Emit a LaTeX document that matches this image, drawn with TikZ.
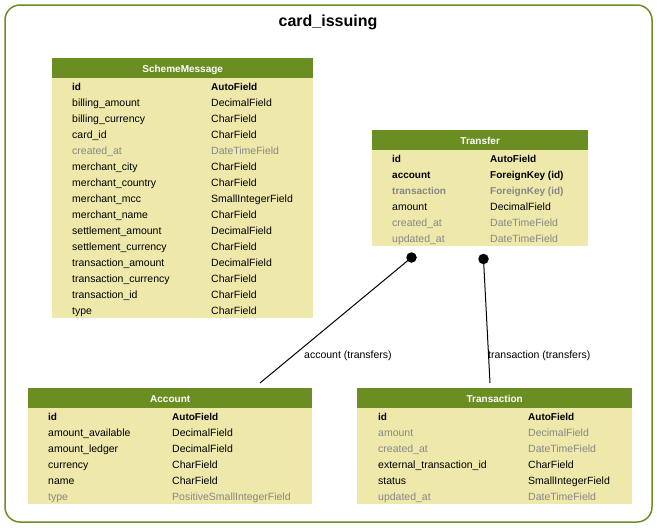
\documentclass[tikz,border=0pt]{standalone}
\usepackage{fontspec}
\setmainfont{Liberation Sans}
\usepackage{tikz}
\usetikzlibrary{arrows.meta,positioning}

\definecolor{olivedrab}{RGB}{107,142,35}
\definecolor{palegold}{RGB}{238,232,170}
\definecolor{fadegray}{RGB}{135,135,135}

\tikzset{
  tblhead/.style={fill=olivedrab, text=white, font=\bfseries, anchor=north west,
    inner sep=0pt, minimum height=20pt, text height=8pt, text depth=0pt},
  fldkey/.style={font=\bfseries, anchor=west, inner sep=0pt, text height=8pt, text depth=0pt},
  fldplain/.style={anchor=west, inner sep=0pt, text height=8pt, text depth=0pt},
  fldgray/.style={fldplain, text=fadegray},
  fldgraykey/.style={fldkey, text=fadegray},
  reldot/.style={circle, fill=black, inner sep=0pt, minimum size=10.5pt},
  rellabel/.style={anchor=west, inner sep=0pt, text height=8pt, text depth=0pt}
}

\begin{document}
\begin{tikzpicture}[x=1pt, y=-1pt, font=\fontsize{10.5}{12.6}\selectfont]
    \useasboundingbox (0,0) rectangle (657,528);
    \draw[olivedrab, line width=1.5pt, rounded corners=15pt] (5,5) rectangle (652,522);
    \node (title) [font=\bfseries\fontsize{16}{19}\selectfont] at (328,22) {card\_issuing};

    % SchemeMessage
    \node (scheme) [tblhead, minimum width=261pt] at (52,58) {SchemeMessage};
    \fill[palegold] (scheme.south west) rectangle ++(261,240);
    \foreach \n/\t/\s [count=\i from 0] in {
        id/AutoField/fldkey,
        billing\_amount/DecimalField/fldplain,
        billing\_currency/CharField/fldplain,
        card\_id/CharField/fldplain,
        created\_at/DateTimeField/fldgray,
        merchant\_city/CharField/fldplain,
        merchant\_country/CharField/fldplain,
        merchant\_mcc/SmallIntegerField/fldplain,
        merchant\_name/CharField/fldplain,
        settlement\_amount/DecimalField/fldplain,
        settlement\_currency/CharField/fldplain,
        transaction\_amount/DecimalField/fldplain,
        transaction\_currency/CharField/fldplain,
        transaction\_id/CharField/fldplain,
        type/CharField/fldplain}{
      \node[\s] at (72,86+16*\i) {\n};
      \node[\s] at (211,86+16*\i) {\t};
    }

    % Transfer
    \node (transfer) [tblhead, minimum width=216pt] at (372,130) {Transfer};
    \fill[palegold] (transfer.south west) rectangle ++(216,96);
    \foreach \n/\t/\s [count=\i from 0] in {
        id/AutoField/fldkey,
        account/ForeignKey (id)/fldkey,
        transaction/ForeignKey (id)/fldgraykey,
        amount/DecimalField/fldplain,
        created\_at/DateTimeField/fldgray,
        updated\_at/DateTimeField/fldgray}{
      \node[\s] at (392,158+16*\i) {\n};
      \node[\s] at (490,158+16*\i) {\t};
    }

    % Account
    \node (account) [tblhead, minimum width=284pt] at (28,388) {Account};
    \fill[palegold] (account.south west) rectangle ++(284,96);
    \foreach \n/\t/\s [count=\i from 0] in {
        id/AutoField/fldkey,
        amount\_available/DecimalField/fldplain,
        amount\_ledger/DecimalField/fldplain,
        currency/CharField/fldplain,
        name/CharField/fldplain,
        type/PositiveSmallIntegerField/fldgray}{
      \node[\s] at (48,416+16*\i) {\n};
      \node[\s] at (172,416+16*\i) {\t};
    }

    % Transaction
    \node (txn) [tblhead, minimum width=275pt] at (357,388) {Transaction};
    \fill[palegold] (txn.south west) rectangle ++(275,96);
    \foreach \n/\t/\s [count=\i from 0] in {
        id/AutoField/fldkey,
        amount/DecimalField/fldgray,
        created\_at/DateTimeField/fldgray,
        external\_transaction\_id/CharField/fldplain,
        status/SmallIntegerField/fldplain,
        updated\_at/DateTimeField/fldgray}{
      \node[\s] at (378,416+16*\i) {\n};
      \node[\s] at (528,416+16*\i) {\t};
    }

    % relations
    \node (accdot) [reldot] at (411.5,257.5) {};
    \node (txndot) [reldot] at (483.5,259) {};
    \coordinate (acctop) at (260,383);
    \coordinate (txntop) at (490,383);
    \draw[line width=1pt] (accdot.center) -- (acctop);
    \draw[line width=1pt] (txndot.center) -- (txntop);
    \node (acclabel) [rellabel] at (304,354) {account (transfers)};
    \node (txnlabel) [rellabel] at (488,354) {transaction (transfers)};
\end{tikzpicture}
\end{document}
